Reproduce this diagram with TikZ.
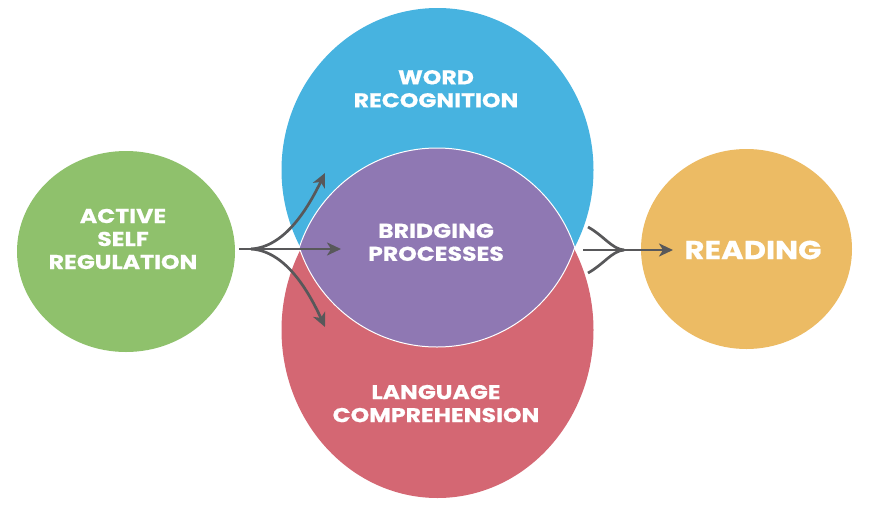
\documentclass[tikz,border=0pt]{standalone}
\usepackage{fontspec}
\setmainfont{Poppins}[BoldFeatures={FakeStretch=1.18,FakeBold=0.6}]
\usetikzlibrary{arrows.meta,shapes.geometric}
\definecolor{cgreen}{RGB}{143,193,108}
\definecolor{cblue}{RGB}{71,179,224}
\definecolor{cpurple}{RGB}{143,120,179}
\definecolor{cred}{RGB}{212,103,115}
\definecolor{corange}{RGB}{236,187,100}
\definecolor{carrow}{RGB}{88,88,90}
\tikzset{
  blob/.style={ellipse, inner sep=0pt, draw=none},
  lbl/.style={text=white, align=center, inner sep=0pt, font=\bfseries\fontsize{20}{23}\selectfont},
  conn/.style={draw=carrow, line width=2.7pt},
  arr/.style={conn, -{Stealth[length=14pt,width=13pt,inset=4pt]}},
}
\begin{document}
\begin{tikzpicture}[x=1pt,y=-1pt]
\useasboundingbox (0,0) rectangle (870,504);
% outer lobes
\begin{scope}
  \clip (200,0) rectangle (700,249);
  \node[blob, fill=cblue, minimum width=312pt, minimum height=324pt] (word) at (437.5,170) {};
\end{scope}
\begin{scope}
  \clip (200,249) rectangle (700,504);
  \node[blob, fill=cred, minimum width=312pt, minimum height=336pt] (lang) at (437.5,330) {};
\end{scope}
% lens
\begin{scope}
  \clip (437,293) circle (145);
  \fill[cpurple] (437,202) circle (145);
  \draw[white, line width=1pt] (437,202) circle (145);
\end{scope}
\begin{scope}
  \clip (437,202) circle (145);
  \draw[white, line width=1pt] (437,293) circle (145);
\end{scope}
\node[inner sep=0pt, minimum size=1pt] (bridge) at (437,248) {};
% side circles
\node[blob, fill=cgreen, minimum width=218pt, minimum height=201pt] (asr) at (126,251.5) {};
\node[blob, fill=corange, minimum width=211pt, minimum height=200pt] (read) at (746.5,249) {};
% labels
\node[lbl] (tword) at (436,88.8) {WORD\\RECOGNITION};
\node[lbl] (tbridge) at (436,242.3) {BRIDGING\\PROCESSES};
\node[lbl] (tlang) at (436,403.6) {LANGUAGE\\COMPREHENSION};
\node[lbl] (tasr) at (123,239) {ACTIVE\\SELF\\REGULATION};
\node[lbl, font=\bfseries\fontsize{26}{30}\selectfont] (tread) at (753,250) {READING};
% left arrows
\coordinate (ls) at (239,249);
\coordinate (lb) at (251,249);
\coordinate (lup) at (325,173);
\coordinate (lmid) at (341,249);
\coordinate (ldn) at (325,327);
\draw[arr] (ls) -- (lmid);
\draw[arr] (lb) .. controls (285,247) and (308,208) .. (lup);
\draw[arr] (lb) .. controls (285,251) and (308,290) .. (ldn);
% right arrows
\coordinate (rs) at (583,250);
\coordinate (rm) at (624,250);
\coordinate (ru) at (588,227);
\coordinate (rd) at (588,273);
\coordinate (re) at (673,250);
\draw[arr] (rs) -- (re);
\draw[conn] (ru) .. controls (604,236) and (612,249) .. (rm);
\draw[conn] (rd) .. controls (604,264) and (612,251) .. (rm);
\end{tikzpicture}
\end{document}
